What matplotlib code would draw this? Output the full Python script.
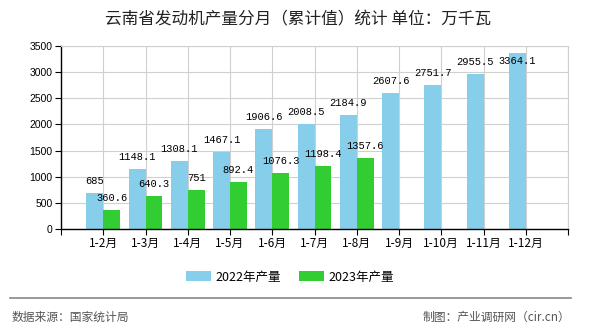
import matplotlib
matplotlib.use('Agg')
import matplotlib.pyplot as plt
import numpy as np

plt.rcParams['font.family'] = ['Noto Sans CJK SC', 'DejaVu Sans']

months = ['1-2月', '1-3月', '1-4月', '1-5月', '1-6月', '1-7月', '1-8月',
          '1-9月', '1-10月', '1-11月', '1-12月']
prod_2022 = [685, 1148.1, 1308.1, 1467.1, 1906.6, 2008.5, 2184.9,
             2607.6, 2751.7, 2955.5, 3364.1]
prod_2023 = [360.6, 640.3, 751, 892.4, 1076.3, 1198.4, 1357.6]
labels_2022 = ['685', '1148.1', '1308.1', '1467.1', '1906.6', '2008.5', '2184.9',
               '2607.6', '2751.7', '2955.5', '3364.1']
labels_2023 = ['360.6', '640.3', '751', '892.4', '1076.3', '1198.4', '1357.6']

c22 = '#87CEEB'
c23 = '#32CD32'
w = 0.4

fig = plt.figure(figsize=(5.9, 3.3), dpi=100)
ax = fig.add_axes([61/590, 1-229/330, (568-61)/590, (229-46)/330])

x = np.arange(1, len(months) + 1)
x23 = x[:len(prod_2023)]
b1 = ax.bar(x - w/2, prod_2022, width=w, color=c22, label='2022年产量', zorder=2)
b2 = ax.bar(x23 + w/2, prod_2023, width=w, color=c23, label='2023年产量', zorder=2)

# labels sit 12px above the bar, but never closer than ~15px to the top edge
ymax = 3500
px_per_unit = 183 / ymax
cap = ymax - 27 / px_per_unit

def label_bars(xs, vals, texts):
    for xi, v, s in zip(xs, vals, texts):
        ax.annotate(s, (xi, min(v, cap)), xytext=(0, 12), textcoords='offset pixels',
                    ha='center', va='center', fontsize=7.5, family='Liberation Mono', zorder=3)

label_bars(x - w/2, prod_2022, labels_2022)
label_bars(x23 + w/2, prod_2023, labels_2023)

ax.set_xlim(0, 12)
ax.set_ylim(0, ymax)
ax.set_xticks(np.arange(0, 13))
ax.set_xticklabels([''] + months + [''], fontsize=8.5)
ax.set_yticks(np.arange(0, 3501, 500))
ax.set_yticklabels([str(v) for v in range(0, 3501, 500)], fontsize=7.5, family='Liberation Sans')
ax.grid(True, color='#d0d0d0', linewidth=0.8, zorder=0)
ax.tick_params(axis='both', length=4, width=0.8, pad=2, colors='black')
for s in ['top', 'right']:
    ax.spines[s].set_color('#d0d0d0')
for s in ['left', 'bottom']:
    ax.spines[s].set_color('black')
    ax.spines[s].set_linewidth(1)

fig.text(0.505, 1-20/330, '云南省发动机产量分月（累计值）统计 单位：万千瓦',
         ha='center', va='center', fontsize=12, color='#222222')

leg = fig.legend(handles=[b1, b2], loc='center', bbox_to_anchor=(290/590, 1-277/330),
                 ncol=2, frameon=False, fontsize=9, handlelength=2.0, handleheight=0.9,
                 columnspacing=1.5, handletextpad=0.3)

fig.add_artist(plt.Line2D([10/590, 571/590], [1-298/330, 1-298/330],
                          color='#888888', linewidth=1.2))
fig.text(12/590, 1-317/330, '数据来源：国家统计局', ha='left', va='center',
         fontsize=8.5, color='#555555')
fig.text(570/590, 1-317/330, '制图：产业调研网（cir.cn）', ha='right', va='center',
         fontsize=8.5, color='#555555')

fig.savefig('out.png', dpi=100)
